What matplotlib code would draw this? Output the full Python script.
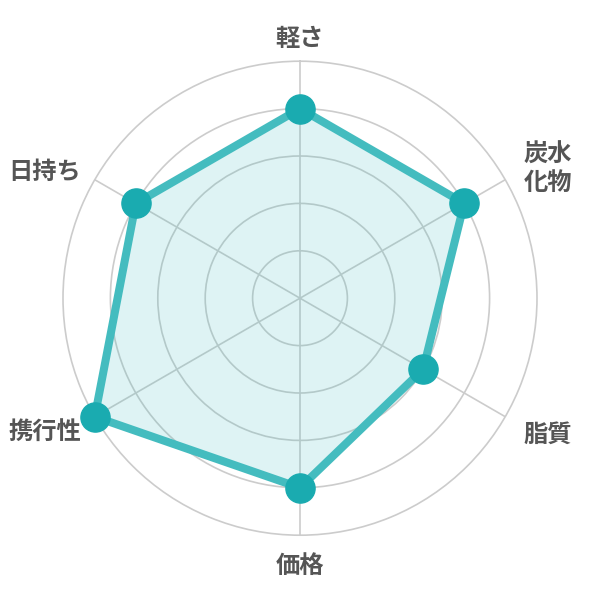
import numpy as np
import matplotlib
matplotlib.use("Agg")
import matplotlib.pyplot as plt
from matplotlib.transforms import offset_copy

plt.rcParams['font.family'] = ['Noto Sans CJK JP', 'DejaVu Sans']

categories = ['軽さ', '炭水\n化物', '脂質', '価格', '携行性', '日持ち']
values = [4, 4, 3, 4, 5, 4]
rmax = 5

fig = plt.figure(figsize=(6, 6), dpi=100)
ax = fig.add_axes([0.105, 0.108, 0.79, 0.79], projection='polar')
ax.set_theta_offset(np.pi / 2)
ax.set_theta_direction(-1)

n = len(categories)
angles = np.arange(n) * 2 * np.pi / n
ax.set_ylim(0, rmax)
ax.set_xticks(angles)
ax.set_xticklabels([])
ax.set_yticks(np.arange(1, rmax))
ax.set_yticklabels([])
ax.grid(True, color='#cccccc', linewidth=1.2)
ax.spines['polar'].set_color('#cccccc')
ax.spines['polar'].set_linewidth(1.2)

a = np.append(angles, angles[0])
v = np.append(values, values[0])
ax.fill(a, v, color='#3dbbbe', alpha=0.17, zorder=2)
ax.plot(a, v, color='#44bcbf', linewidth=5.8, zorder=3, clip_on=False)
ax.plot(angles, values, 'o', color='#1aabb0', markersize=21, zorder=4, clip_on=False)

for ang, lab in zip(angles, categories):
    deg = np.degrees(ang) % 360
    dy = 0
    if deg < 1:
        ha, r = 'center', 5.47
    elif abs(deg - 180) < 1:
        ha, r = 'center', 5.64
    elif deg < 180:
        ha, r = 'left', 5.45
    else:
        ha, r = 'right', 5.33
    if 90 < deg < 270 and ha != 'center':
        dy = -5
    tr = offset_copy(ax.transData, fig=fig, x=0, y=dy, units='points')
    ax.text(ang, r, lab, ha=ha, va='center', fontsize=17.5, fontweight='bold',
            color='#555555', linespacing=1.25, clip_on=False, transform=tr)

fig.savefig('out.png', dpi=100, facecolor='white')
